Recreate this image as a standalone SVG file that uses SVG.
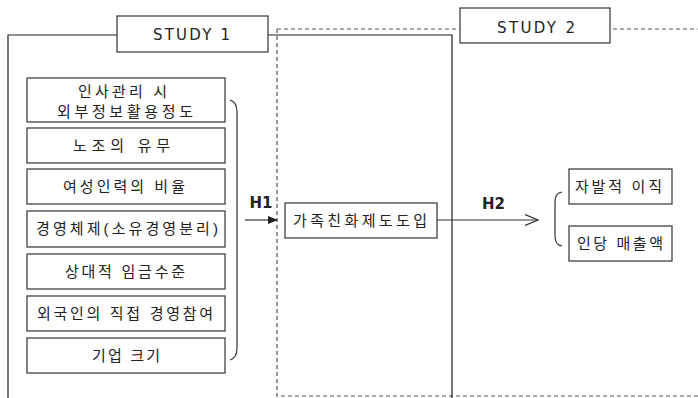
<svg xmlns="http://www.w3.org/2000/svg" width="698" height="398" viewBox="0 0 698 398">
<style>
.box{fill:#fff;stroke:#333;stroke-width:1.2}
.frame{fill:none;stroke:#222;stroke-width:1.2}
.dash{fill:none;stroke:#555;stroke-width:1.2;stroke-dasharray:4,3}
.ln{fill:none;stroke:#333;stroke-width:1.2}
text{font-family:"Liberation Sans","Noto Sans CJK KR",sans-serif;font-size:15px;fill:#222;text-anchor:middle}
.lat{font-family:"DejaVu Sans",sans-serif;font-size:15px}
.hl{font-family:"DejaVu Sans",sans-serif;font-size:15px;font-weight:bold}
</style>
<defs>
<marker id="fill" markerWidth="10" markerHeight="8" refX="9" refY="4" orient="auto" markerUnits="userSpaceOnUse">
<path d="M0,0 L10,4 L0,8 Z" fill="#222"/>
</marker>
<marker id="open" markerWidth="14" markerHeight="12" refX="13" refY="6" orient="auto" markerUnits="userSpaceOnUse">
<path d="M0,0.5 L13,6 L0,11.5" fill="none" stroke="#333" stroke-width="1.2"/>
</marker>
</defs>
<g id="frames">
<path class="dash" d="M277,29 L698,29 M277,29 L277,396 L698,396"/>
<path class="frame" d="M117,35 L8,35 L8,398 M268,35 L452,35 L452,398"/>
</g>
<g id="study1"><rect class="box" x="117" y="16" width="151" height="36"/><text class="lat" x="191.5" y="40" textLength="77" lengthAdjust="spacing">STUDY 1</text></g>
<g id="study2"><rect class="box" x="460" y="8" width="150" height="35"/><text class="lat" x="536" y="33" textLength="78" lengthAdjust="spacing">STUDY 2</text></g>
<g id="n1"><rect class="box" x="27" y="78" width="198" height="44"/><text x="122.5" y="97" textLength="89" lengthAdjust="spacing">인사관리 시</text><text x="125" y="117" textLength="136" lengthAdjust="spacing">외부정보활용정도</text></g>
<g id="n2"><rect class="box" x="27" y="128" width="198" height="35"/><text x="121.5" y="151" textLength="97" lengthAdjust="spacing">노조의 유무</text></g>
<g id="n3"><rect class="box" x="27" y="169" width="198" height="35"/><text x="124" y="192" textLength="122" lengthAdjust="spacing">여성인력의 비율</text></g>
<g id="n4"><rect class="box" x="27" y="211" width="198" height="36"/><text x="127" y="234" textLength="182" lengthAdjust="spacing">경영체제(소유경영분리)</text></g>
<g id="n5"><rect class="box" x="27" y="254" width="198" height="35"/><text x="125" y="277" textLength="120" lengthAdjust="spacing">상대적 임금수준</text></g>
<g id="n6"><rect class="box" x="27" y="296" width="198" height="35"/><text x="125" y="319" textLength="176" lengthAdjust="spacing">외국인의 직접 경영참여</text></g>
<g id="n7"><rect class="box" x="27" y="338" width="198" height="35"/><text x="126" y="361" textLength="68" lengthAdjust="spacing">기업 크기</text></g>
<g id="n8"><rect class="box" x="285" y="203" width="152" height="35"/><text x="360" y="226" textLength="134" lengthAdjust="spacing">가족친화제도도입</text></g>
<g id="n9"><rect class="box" x="569" y="169" width="103" height="35"/><text x="618.5" y="192" textLength="87" lengthAdjust="spacing">자발적 이직</text></g>
<g id="n10"><rect class="box" x="569" y="226" width="103" height="35"/><text x="620" y="249" textLength="86" lengthAdjust="spacing">인당 매출액</text></g>
<g id="connectors">
<path class="ln" d="M230,100 Q237,102 237,112 L237,348 Q237,358 230,360"/>
<path class="ln" d="M562,192 Q555,193 555,202 L555,236 Q555,245 562,246"/>
<line class="ln" x1="245" y1="220" x2="277" y2="220" marker-end="url(#fill)"/>
<line class="ln" x1="437" y1="220" x2="538" y2="220" marker-end="url(#open)"/>
<text class="hl" x="261" y="208">H1</text>
<text class="hl" x="493.5" y="209">H2</text>
</g>
</svg>
